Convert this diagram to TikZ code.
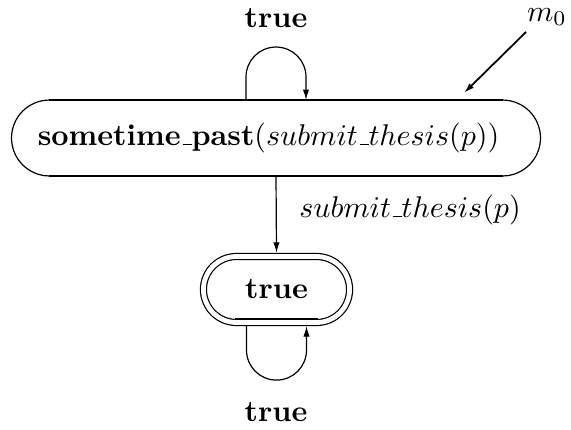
\documentclass[tikz,border=0pt]{standalone}
\usetikzlibrary{shapes.misc,arrows.meta}
\newcommand\myusc{\leavevmode\kern.06em\vbox{\hrule width.3em}}
\newcommand\mathusc{\mbox{\myusc}}
\begin{document}
\begin{tikzpicture}[x=0.3333pt,y=0.3333pt,
  thin line/.style={line width=0.4pt},
  bar/.style={line width=0.75pt},
  state/.style={rounded rectangle, rounded rectangle arc length=180, draw, thin line, inner sep=0pt, outer sep=0pt},
  arr/.style={thin line,-{Latex[length=3.5pt,width=2.1pt]}},
  lbl/.style={inner sep=0pt}]
\useasboundingbox (0,0) rectangle (571,429);
% main state
\node[state, minimum width=176.3pt, minimum height=25.3pt,
  label={[lbl,xshift=-2.5pt]center:\textbf{sometime\myusc past}$(submit\mathusc thesis(p))$}] (main) at (276,291) {};
\draw[bar] ([xshift=-75.7pt]main.north) -- ([xshift=75.7pt]main.north);
\draw[bar] ([xshift=-75.7pt]main.south) -- ([xshift=75.7pt]main.south);
% final state
\node[state, double, double distance=1.6pt, outer sep=1.2pt, minimum width=48.7pt, minimum height=22pt] (fin) at (276.5,139.5) {\textbf{true}};
\coordinate (finb) at ([yshift=2.3pt]fin.south);
\draw[bar] ([xshift=-13.7pt]finb) -- ([xshift=13.7pt]finb);
% self loop on main
\draw[arr] ([xshift=-10pt]main.north) -- ++(0,23) arc[start angle=180,end angle=0,radius=10pt] -- ([xshift=10pt]main.north);
\node[lbl] (t1) at (276,411) {\textbf{true}};
% transition
\draw[arr] (main.south) -- (fin.north);
\node[lbl] (t2) at (410,219) {$submit\mathusc thesis(p)$};
% self loop on final
\draw[arr] ([xshift=-10pt]fin.south) -- ++(0,-24) arc[start angle=180,end angle=360,radius=10pt] -- ([xshift=10pt]fin.south);
\node[lbl] (t3) at (276,16.5) {\textbf{true}};
% initial marker
\node[lbl] (m0) at (547,412) {$m_0$};
\coordinate (m0tail) at (526,397);
\coordinate (m0tip) at (464,336);
\draw[arr, line width=0.6pt] (m0tail) -- (m0tip);
\end{tikzpicture}
\end{document}
